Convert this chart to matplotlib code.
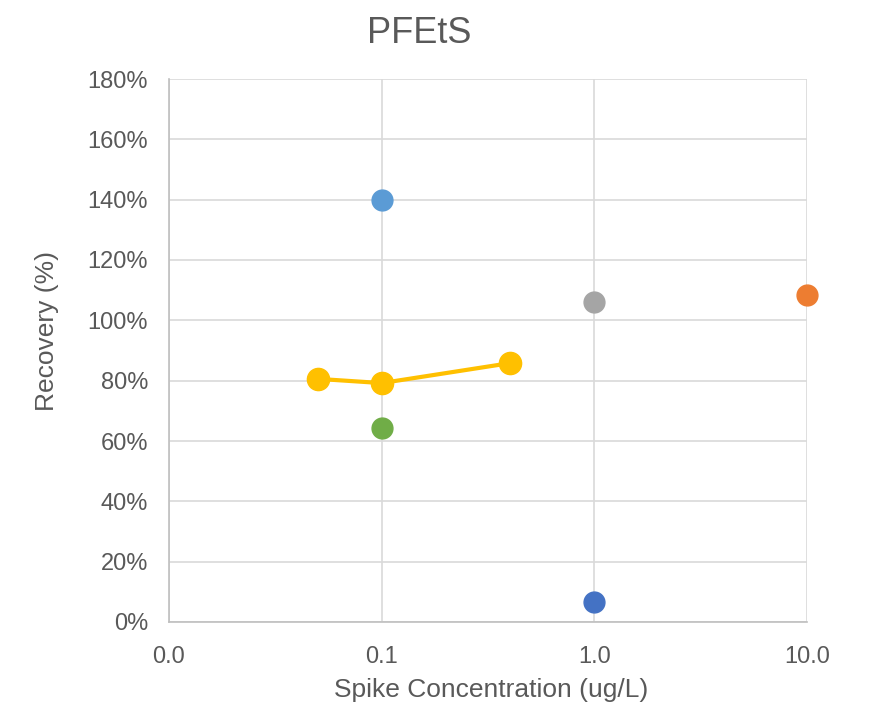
import matplotlib
matplotlib.use("Agg")
import matplotlib.pyplot as plt
from matplotlib.ticker import FixedLocator, FuncFormatter

plt.rcParams["font.family"] = ["Liberation Sans", "DejaVu Sans"]

# single-point series: (spike conc ug/L, recovery %)
conc_a, rec_a = [0.1], [140.0]
conc_b, rec_b = [1.0], [106.2]
conc_c, rec_c = [10.0], [108.5]
conc_d, rec_d = [0.1], [64.3]
conc_e, rec_e = [1.0], [6.5]
# connected series
conc_line = [0.05, 0.1, 0.4]
rec_line = [80.6, 79.2, 85.8]

TXT = "#595959"
W, H = 875, 706

fig = plt.figure(figsize=(W / 100, H / 100), dpi=100)
ax = fig.add_axes([169 / W, 1 - 622 / H, (807 - 169) / W, (622 - 79) / H])

ax.plot(conc_line, rec_line, color="#FFC000", lw=3, marker="o", ms=16,
        zorder=3, clip_on=False)
for x, y, c in [(conc_a, rec_a, "#5B9BD5"), (conc_b, rec_b, "#A5A5A5"),
                (conc_c, rec_c, "#ED7D31"), (conc_d, rec_d, "#70AD47"),
                (conc_e, rec_e, "#4472C4")]:
    ax.plot(x, y, "o", color=c, ms=15, zorder=3, clip_on=False)

ax.set_xscale("log")
ax.set_xlim(0.01, 10)
ax.set_ylim(0, 180)
ax.xaxis.set_major_locator(FixedLocator([0.01, 0.1, 1, 10]))
ax.xaxis.set_minor_locator(FixedLocator([]))
ax.xaxis.set_major_formatter(FuncFormatter(lambda v, p: f"{v:.1f}"))
ax.set_yticks(range(0, 181, 20))
ax.yaxis.set_major_formatter(FuncFormatter(lambda v, p: f"{v:.0f}%"))

ax.grid(True, color="#D9D9D9", lw=1.2)
ax.set_axisbelow(True)
for s in ["top", "right"]:
    ax.spines[s].set_visible(False)
for s in ["left", "bottom"]:
    ax.spines[s].set_color("#BFBFBF")
    ax.spines[s].set_linewidth(1.2)
ax.tick_params(axis="both", length=0, labelsize=17, colors=TXT)
ax.tick_params(axis="x", pad=17)
ax.tick_params(axis="y", pad=15)

# axis titles and chart title placed in figure coords
fig.text(491 / W, 1 - 697 / H, "Spike Concentration (ug/L)", fontsize=19,
         color=TXT, ha="center", va="baseline")
fig.text(47 / W, 1 - 331 / H, "Recovery (%)", fontsize=19, color=TXT,
         rotation=90, ha="center", va="center")
fig.text(419 / W, 1 - 43 / H, "PFEtS", fontsize=26, color=TXT,
         ha="center", va="baseline")

fig.savefig("out.png", dpi=100)
